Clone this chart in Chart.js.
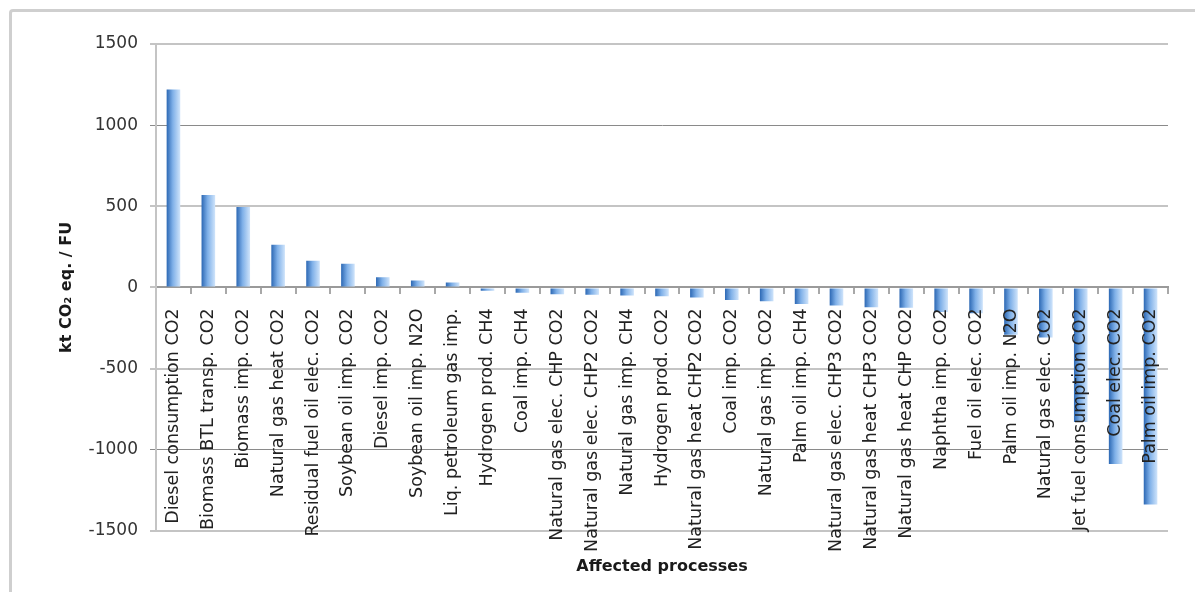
<!DOCTYPE html>
<html>
<head>
<meta charset="utf-8">
<script src="https://cdn.jsdelivr.net/npm/chart.js@4/dist/chart.umd.min.js"></script>
<style>
  html, body { margin: 0; padding: 0; background: #fff; overflow: hidden; }
  .frame {
    position: absolute; left: 9px; top: 9px; width: 1300px; height: 700px;
    border-left: 3px solid #cfcfcf; border-top: 3px solid #cfcfcf;
    border-top-left-radius: 4px;
  }
  .wrap { position: absolute; left: 0; top: 0; width: 1195px; height: 592px; }
</style>
</head>
<body>
<div class="frame"></div>
<div class="wrap"><canvas id="chart" width="1195" height="592"></canvas></div>
<script>
// categories (affected processes) and their values in kt CO2 eq. / FU
const processes = [
    'Diesel consumption CO2', 'Biomass BTL transp. CO2', 'Biomass imp. CO2',
    'Natural gas heat CO2', 'Residual fuel oil elec. CO2', 'Soybean oil imp. CO2',
    'Diesel imp. CO2', 'Soybean oil imp. N2O', 'Liq. petroleum gas imp.',
    'Hydrogen prod. CH4', 'Coal imp. CH4', 'Natural gas elec. CHP CO2',
    'Natural gas elec. CHP2 CO2', 'Natural gas imp. CH4', 'Hydrogen prod. CO2',
    'Natural gas heat CHP2 CO2', 'Coal imp. CO2', 'Natural gas imp. CO2',
    'Palm oil imp. CH4', 'Natural gas elec. CHP3 CO2', 'Natural gas heat CHP3 CO2',
    'Natural gas heat CHP CO2', 'Naphtha imp. CO2', 'Fuel oil elec. CO2',
    'Palm oil imp. N2O', 'Natural gas elec. CO2', 'Jet fuel consumption CO2',
    'Coal elec. CO2', 'Palm oil imp. CO2'
];
const emissions = [
    1220, 570, 495, 263, 165, 146, 62, 43, 30,
    -20, -33, -42, -45, -50, -55, -62, -77, -86,
    -102, -112, -122, -125, -152, -160, -292, -308,
    -830, -1088, -1338
];
const yMin = -1500;
const yMax = 1500;
const yStep = 500;

const BAR_FRACTION = 0.39;

// horizontal gradient on each bar, like the old Excel style
const barFill = (ctx) => {
    const chart = ctx.chart;
    const xs = chart.scales.x;
    if (ctx.dataIndex === undefined || !xs || !chart.chartArea) return '#6fa3e0';
    const w = (xs.width / processes.length) * BAR_FRACTION;
    const cx = xs.getPixelForValue(ctx.dataIndex);
    const g = chart.ctx.createLinearGradient(cx - w / 2, 0, cx + w / 2, 0);
    g.addColorStop(0, '#2c68b4');
    g.addColorStop(0.45, '#7fb0e8');
    g.addColorStop(1, '#cfe4fb');
    return g;
};

// grid lines: the ±1000 ones look darker and thinner in the original
const gridColor = (ctx) => {
    const v = ctx.tick && ctx.tick.value;
    return Math.abs(v) === 1000 ? '#8a8a8a' : '#c4c4c4';
};
const gridWidth = (ctx) => {
    const v = ctx.tick && ctx.tick.value;
    return Math.abs(v) === 1000 ? 1 : 2;
};

new Chart(document.getElementById('chart').getContext('2d'), {
    type: 'bar',
    data: {
        labels: processes,
        datasets: [{
            data: emissions,
            backgroundColor: barFill,
            borderWidth: 0,
            barPercentage: 1,
            categoryPercentage: BAR_FRACTION
        }]
    },
    options: {
        responsive: false,
        animation: false,
        devicePixelRatio: 1,
        layout: { padding: { top: 44, right: 27, left: 0, bottom: 0 } },
        plugins: {
            legend: { display: false },
            tooltip: { enabled: false },
            title: {
                display: true,
                position: 'bottom',
                fullSize: false,
                text: 'Affected processes',
                color: '#1a1a1a',
                font: { family: 'DejaVu Sans', size: 16, weight: 'bold' },
                padding: { top: 26, bottom: 16 }
            }
        },
        scales: {
            x: {
                position: { y: 0 },
                border: { display: true, color: '#9a9a9a', width: 2 },
                grid: {
                    drawOnChartArea: false,
                    drawTicks: true,
                    tickLength: 6,
                    color: '#a8a8a8',
                    lineWidth: 2
                },
                ticks: {
                    z: 1, // labels sit on top of the bars
                    autoSkip: false,
                    minRotation: 90,
                    maxRotation: 90,
                    padding: 15,
                    color: '#222',
                    font: { family: 'DejaVu Sans', size: 17.5 }
                }
            },
            y: {
                min: yMin,
                max: yMax,
                afterFit: (scale) => { scale.width = 156; },
                border: { display: true, color: '#c4c4c4', width: 2 },
                grid: {
                    color: gridColor,
                    lineWidth: gridWidth,
                    tickLength: 6
                },
                ticks: {
                    stepSize: yStep,
                    padding: 12,
                    color: '#333',
                    font: { family: 'DejaVu Sans', size: 17 },
                    callback: (v) => String(v)
                },
                title: {
                    display: true,
                    text: 'kt CO₂ eq. / FU',
                    color: '#1a1a1a',
                    font: { family: 'DejaVu Sans', size: 16, weight: 'bold' },
                    padding: { top: 57, bottom: 0 }
                }
            }
        }
    }
});
</script>
</body>
</html>
